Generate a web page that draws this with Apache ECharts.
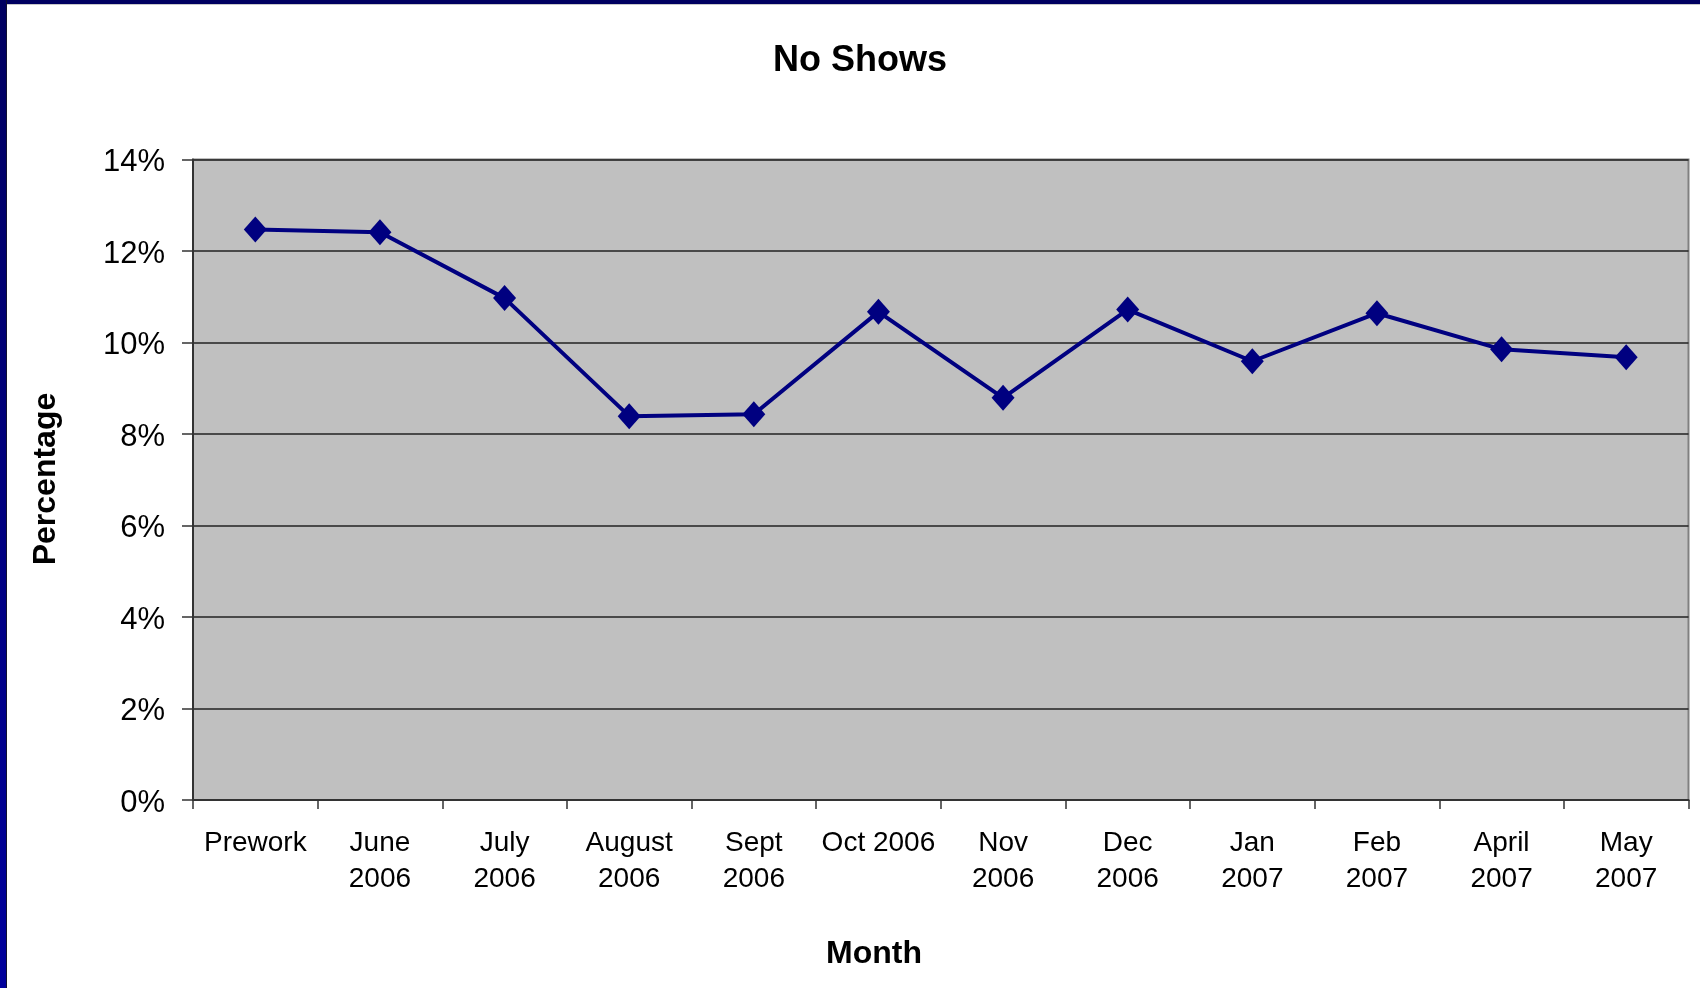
<!DOCTYPE html>
<html>
<head>
<meta charset="utf-8">
<title>No Shows</title>
<script src="https://cdn.jsdelivr.net/npm/echarts@6/dist/echarts.min.js"></script>
<style>
  html, body { margin: 0; padding: 0; background: #ffffff; }
  #chart { width: 1700px; height: 988px; }
</style>
</head>
<body>
<div id="chart"></div>
<script>
// Monthly no-show rate (percent of scheduled appointments)
const months = [
  'Prework', 'June\n2006', 'July\n2006', 'August\n2006', 'Sept\n2006', 'Oct 2006',
  'Nov\n2006', 'Dec\n2006', 'Jan\n2007', 'Feb\n2007', 'April\n2007', 'May\n2007'
];
const noShowRate = [12.47, 12.41, 10.97, 8.39, 8.43, 10.67, 8.79, 10.72, 9.59, 10.64, 9.85, 9.68];
const yMin = 0;
const yMax = 14;
const yStep = 2;

const FONT = '"Liberation Sans", Arial, Helvetica, sans-serif';

const chart = echarts.init(document.getElementById('chart'), null, { renderer: 'canvas' });

chart.setOption({
  backgroundColor: '#ffffff',
  animation: false,
  grid: {
    left: 193,
    right: 11.5,
    top: 159.5,
    bottom: 188,
    show: true,
    backgroundColor: '#C0C0C0',
    borderColor: '#808080',
    borderWidth: 2
  },
  xAxis: {
    type: 'category',
    data: months,
    boundaryGap: true,
    axisLine: { show: true, lineStyle: { color: '#333333', width: 2 } },
    axisTick: { show: true, length: 9, lineStyle: { color: '#333333', width: 1.5 } },
    axisLabel: {
      interval: 0,
      margin: 25,
      color: '#000000',
      fontFamily: FONT,
      fontSize: 28,
      lineHeight: 36,
      align: 'center'
    },
    splitLine: { show: false }
  },
  yAxis: {
    type: 'value',
    min: yMin,
    max: yMax,
    interval: yStep,
    axisLine: { show: true, lineStyle: { color: '#333333', width: 2 } },
    axisTick: { show: true, length: 11, lineStyle: { color: '#333333', width: 1.5 } },
    axisLabel: {
      margin: 28,
      color: '#000000',
      fontFamily: FONT,
      fontSize: 31,
      // labels sit a little below their tick
      verticalAlign: 'top',
      lineHeight: 6,
      formatter: '{value}%'
    },
    splitLine: { show: true, lineStyle: { color: '#222222', width: 1.5 } }
  },
  series: [{
    type: 'line',
    data: noShowRate,
    symbol: 'diamond',
    symbolSize: [23, 26],
    showSymbol: true,
    lineStyle: { color: '#000080', width: 4 },
    itemStyle: { color: '#000080' },
    z: 5
  }],
  graphic: [
    // slide frame: dark strip along the top and a blue strip down the left edge
    {
      type: 'rect', left: 0, top: 0, z: 100,
      shape: { width: 1700, height: 4 },
      style: { fill: '#000060' }
    },
    {
      type: 'rect', left: 0, top: 4, z: 100,
      shape: { width: 1700, height: 1 },
      style: { fill: '#c8c8c8' }
    },
    {
      type: 'rect', left: 0, top: 0, z: 101,
      shape: { width: 6, height: 988 },
      style: {
        fill: new echarts.graphic.LinearGradient(0, 0, 0, 1, [
          { offset: 0, color: '#000060' },
          { offset: 1, color: '#00009C' }
        ])
      }
    },
    {
      type: 'rect', left: 6, top: 0, z: 101,
      shape: { width: 1, height: 988 },
      style: { fill: '#101030' }
    },
    // chart title
    {
      type: 'text', z: 50,
      x: 860, y: 61,
      style: {
        text: 'No Shows',
        fill: '#000000',
        font: 'bold 36px ' + FONT,
        textAlign: 'center',
        textVerticalAlign: 'middle'
      }
    },
    // y-axis title
    {
      type: 'text', z: 50,
      x: 46, y: 479,
      rotation: Math.PI / 2,
      style: {
        text: 'Percentage',
        fill: '#000000',
        font: 'bold 32px ' + FONT,
        textAlign: 'center',
        textVerticalAlign: 'middle'
      }
    },
    // x-axis title
    {
      type: 'text', z: 50,
      x: 874, y: 954,
      style: {
        text: 'Month',
        fill: '#000000',
        font: 'bold 32px ' + FONT,
        textAlign: 'center',
        textVerticalAlign: 'middle'
      }
    }
  ]
});
</script>
</body>
</html>
